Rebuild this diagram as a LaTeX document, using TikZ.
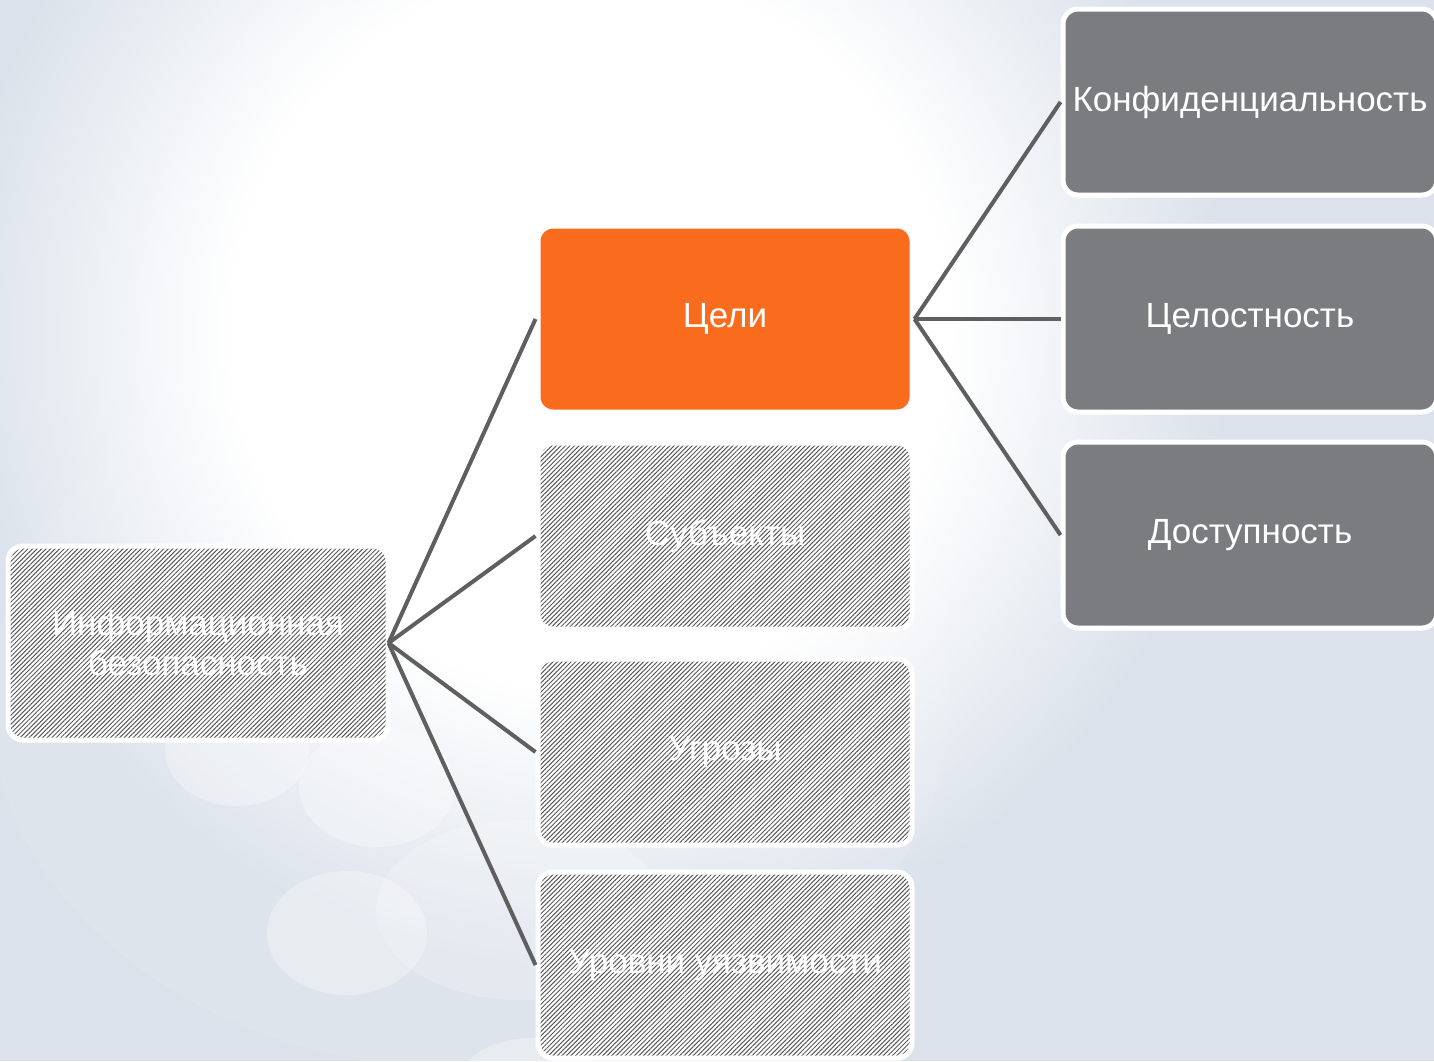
\documentclass[tikz,border=0pt]{standalone}
\usepackage{fontspec}
\setmainfont{Liberation Sans}
\usetikzlibrary{patterns.meta}
\definecolor{bgblue}{HTML}{DBE2EB}
\definecolor{goalorange}{HTML}{F96B1D}
\definecolor{boxgray}{HTML}{7B7C80}
\definecolor{linkgray}{HTML}{5F5F5F}
\definecolor{hatchgray}{HTML}{5A5A5A}
\pgfdeclareradialshading{glow}{\pgfpoint{0bp}{0bp}}{color(0bp)=(white); color(14bp)=(white); color(25bp)=(bgblue); color(50bp)=(bgblue)}
\begin{document}
\begin{tikzpicture}[x=0.5pt, y=-0.5pt,
    box/.style={rectangle, rounded corners=7.5pt, draw=white, line width=2.5pt, text=white,
      font=\fontsize{17.5}{20}\selectfont, align=center, inner sep=0pt,
      minimum width=187pt, minimum height=93pt},
    hatched/.style={box, preaction={fill=white},
      pattern={Lines[angle=45, distance=1.6pt, line width=0.5pt]}, pattern color=hatchgray},
    goal/.style={box, fill=goalorange},
    prop/.style={box, fill=boxgray},
    link/.style={draw=linkgray, line width=2pt},
    bubble/.style={fill=white, opacity=0.3}]
  \useasboundingbox (0,0) rectangle (1434,1061);
  \begin{scope}
    \clip (0,0) rectangle (1434,1061);
    \fill[bgblue] (0,0) rectangle (1434,1061);
    \shade[shading=glow] (590,330) ellipse [x radius=320pt, y radius=320pt];
    \fill[white, opacity=0.08] (470,700) ellipse [x radius=240pt, y radius=185pt];
    \fill[bubble] (237,750) ellipse [x radius=36pt, y radius=28pt];
    \fill[bubble] (377,787) ellipse [x radius=39pt, y radius=30pt];
    \fill[bubble] (347,933) ellipse [x radius=40pt, y radius=31pt];
    \fill[bubble, opacity=0.2] (520,910) ellipse [x radius=72pt, y radius=45pt];
    \fill[bubble] (530,1100) ellipse [x radius=40pt, y radius=31pt];
  \end{scope}

  \node[hatched, minimum width=190pt, minimum height=97pt] (info) at (198,643) {Информационная\\безопасность};

  \node[goal] (goals) at (725,319) {Цели};
  \node[hatched] (subj) at (725,536) {Субъекты};
  \node[hatched] (threat) at (725,752) {Угрозы};
  \node[hatched] (vuln) at (725,965) {Уровни уязвимости};

  \node[prop] (conf) at (1250,102) {Конфиденциальность};
  \node[prop] (integ) at (1250,319) {Целостность};
  \node[prop] (avail) at (1250,535) {Доступность};

  \draw[link] (info.east) -- (goals.west);
  \draw[link] (info.east) -- (subj.west);
  \draw[link] (info.east) -- (threat.west);
  \draw[link] (info.east) -- (vuln.west);
  \draw[link] (goals.east) -- (conf.west);
  \draw[link] (goals.east) -- (integ.west);
  \draw[link] (goals.east) -- (avail.west);
\end{tikzpicture}
\end{document}
